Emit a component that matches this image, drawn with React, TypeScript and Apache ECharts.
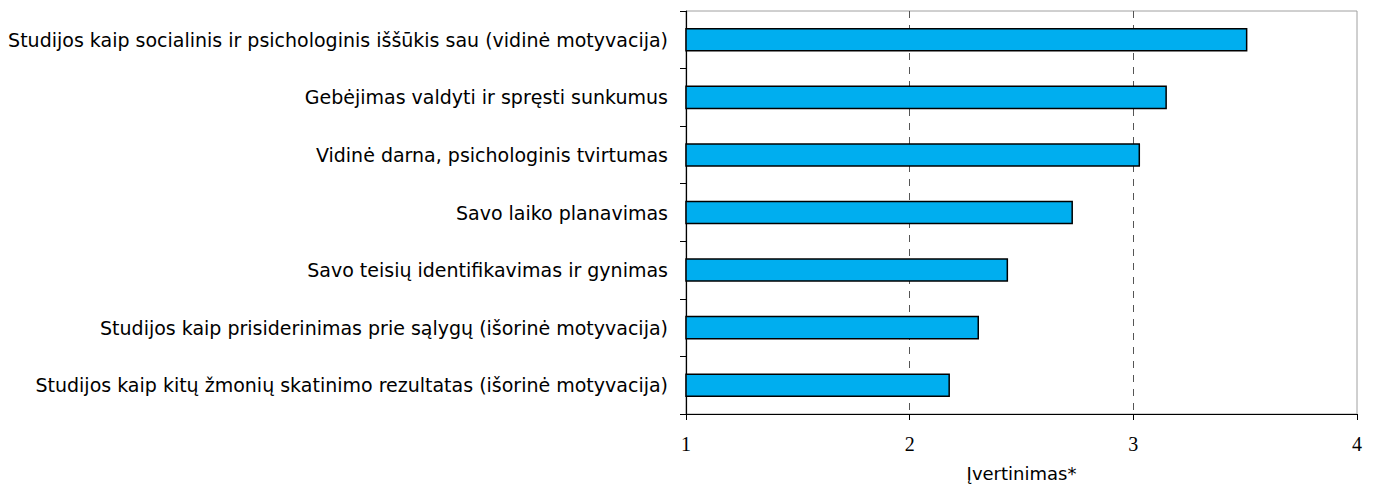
import React, { useEffect, useRef } from "react";
import * as echarts from "echarts";

const categories = [
  "Studijos kaip socialinis ir psichologinis iššūkis sau (vidinė motyvacija)",
  "Gebėjimas valdyti ir spręsti sunkumus",
  "Vidinė darna, psichologinis tvirtumas",
  "Savo laiko planavimas",
  "Savo teisių identifikavimas ir gynimas",
  "Studijos kaip prisiderinimas prie sąlygų (išorinė motyvacija)",
  "Studijos kaip kitų žmonių skatinimo rezultatas (išorinė motyvacija)",
];
const values = [3.51, 3.15, 3.03, 2.73, 2.44, 2.31, 2.18];
const xTicks = [1, 2, 3, 4];
const xTitle = "Įvertinimas*";

export default function App() {
  const ref = useRef<HTMLDivElement>(null);
  useEffect(() => {
    if (!ref.current) return;
    const chart = echarts.init(ref.current, null, { renderer: "svg" });
    chart.setOption({
      animation: false,
      backgroundColor: "#ffffff",
      grid: {
        left: 686,
        right: 18,
        top: 11,
        bottom: 70,
        containLabel: false,
        show: true,
        borderColor: "#a0a0a0",
        borderWidth: 1,
      },
      xAxis: {
        type: "value",
        min: xTicks[0],
        max: xTicks[xTicks.length - 1],
        interval: 1,
        name: xTitle,
        nameLocation: "middle",
        nameGap: 50,
        nameTextStyle: {
          color: "#000",
          fontFamily: "DejaVu Sans, sans-serif",
          fontSize: 18,
        },
        axisLine: { show: true, lineStyle: { color: "#000", width: 1.2 } },
        axisTick: { show: true, length: 6, lineStyle: { color: "#000" } },
        axisLabel: {
          margin: 20,
          color: "#000",
          fontFamily: "Liberation Serif, Times New Roman, serif",
          fontSize: 20,
        },
        splitLine: {
          show: true,
          showMinLine: false,
          showMaxLine: false,
          lineStyle: { color: "#555", type: [7, 7], width: 1 },
        },
      },
      yAxis: {
        type: "category",
        data: categories,
        inverse: true,
        axisLine: { show: true, lineStyle: { color: "#000", width: 1.2 } },
        axisTick: { show: true, length: 6, alignWithLabel: false, lineStyle: { color: "#000" } },
        axisLabel: {
          margin: 18,
          color: "#000",
          fontFamily: "DejaVu Sans, sans-serif",
          fontSize: 19,
        },
        splitLine: { show: false },
      },
      series: [
        {
          type: "bar",
          data: values,
          barCategoryGap: "59%",
          itemStyle: { color: "#00AEEF", borderColor: "#000", borderWidth: 1.5 },
        },
      ],
    });
    return () => chart.dispose();
  }, []);
  return (
    <div
      ref={ref}
      style={{ position: "absolute", left: 0, top: 0, width: 1375, height: 487 }}
    />
  );
}
